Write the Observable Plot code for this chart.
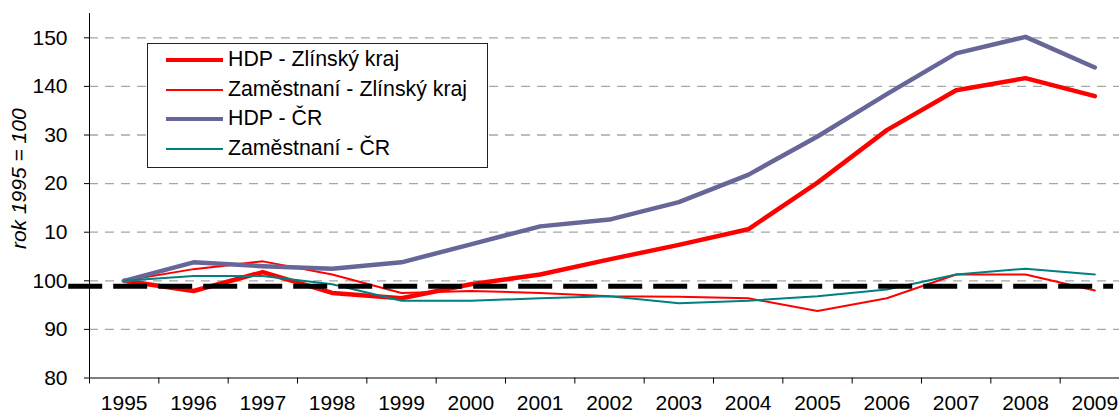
<!DOCTYPE html>
<html>
<head>
<meta charset="utf-8">
<script src="https://cdn.jsdelivr.net/npm/d3@7"></script>
<script src="https://cdn.jsdelivr.net/npm/@observablehq/plot@0.6"></script>
<style>
  html, body { margin: 0; padding: 0; background: white; }
  #wrap { position: relative; width: 1119px; height: 416px; overflow: hidden; font-family: "Liberation Sans", Arial, sans-serif; }
  #legend { position: absolute; left: 147px; top: 43px; width: 341px; height: 125px; border: 1px solid #222; background: white; box-sizing: border-box; }
  .row { position: absolute; left: 0; height: 30px; }
  .sw { position: absolute; left: 18px; width: 57px; }
  .lbl { position: absolute; left: 80px; white-space: nowrap; font-size: 21.3px; color: black; line-height: 1; }
</style>
</head>
<body>
<div id="wrap"></div>
<script>
const years = [1995, 1996, 1997, 1998, 1999, 2000, 2001, 2002, 2003, 2004, 2005, 2006, 2007, 2008, 2009];
const hdpZlin = [100, 97.9, 101.8, 97.5, 96.4, 99.3, 101.3, 104.4, 107.4, 110.6, 120.2, 131.0, 139.2, 141.7, 138.0];
const zamZlin = [100, 102.4, 104.0, 101.3, 97.5, 97.9, 97.5, 96.8, 96.7, 96.4, 93.8, 96.4, 101.3, 101.3, 98.0];
const hdpCR = [100, 103.8, 103.0, 102.5, 103.8, 107.5, 111.2, 112.6, 116.2, 121.8, 129.7, 138.4, 146.8, 150.2, 143.9];
const zamCR = [100, 101.0, 101.0, 99.3, 95.9, 95.9, 96.4, 96.8, 95.4, 95.9, 96.8, 98.2, 101.3, 102.5, 101.3];
const seriesNames = ["HDP - Zlínský kraj", "Zaměstnaní - Zlínský kraj", "HDP - ČR", "Zaměstnaní - ČR"];
const yTicks = [80, 90, 100, 110, 120, 130, 140, 150];
const yTickLabels = ["80", "90", "100", "10", "20", "30", "140", "150"];
const yTitle = "rok 1995 = 100";
const refValue = 98.9;

const styles = [
  {stroke: "#ff0000", strokeWidth: 4.5},
  {stroke: "#ff0000", strokeWidth: 2},
  {stroke: "#666699", strokeWidth: 4.5},
  {stroke: "#008080", strokeWidth: 2}
];
const seriesValues = [hdpZlin, zamZlin, hdpCR, zamCR];
const tables = seriesValues.map(vals => years.map((y, i) => ({year: y, value: vals[i]})));
const bounds = years.map(y => y - 0.5).concat([years[years.length - 1] + 0.5]);
const xMin = years[0] - 0.5, xMax = years[years.length - 1] + 0.5;

const chart = Plot.plot({
  width: 1119,
  height: 416,
  marginLeft: 89,
  marginTop: 13,
  marginBottom: 38.5,
  marginRight: 0,
  x: {type: "linear", domain: [xMin, xMax], range: [89, 1129]},
  y: {domain: [80, 155], range: [377.5, 13]},
  style: {fontFamily: "'Liberation Sans', Arial, sans-serif", fontSize: "21px", background: "white", color: "black"},
  marks: [
    Plot.ruleY(yTicks.filter(v => v > 80), {x1: xMin, x2: xMax, stroke: "#a6a6a6", strokeWidth: 1.3, strokeDasharray: "9,7"}),
    ...tables.map((t, i) => Plot.line(t, {x: "year", y: "value", stroke: styles[i].stroke, strokeWidth: styles[i].strokeWidth, strokeLinejoin: "round", strokeLinecap: "round"})),
    Plot.ruleX([xMin], {y1: 80, y2: 155, stroke: "black", strokeWidth: 1}),
    Plot.ruleY([80], {x1: xMin, x2: xMax, stroke: "black", strokeWidth: 1}),
    Plot.axisY({ticks: yTicks, tickFormat: d => yTickLabels[yTicks.indexOf(d)], tickSize: 5, tickPadding: 17, fontSize: 21, label: null, anchor: "left"}),
    Plot.axisX({ticks: bounds, tickFormat: () => "", tickSize: 6, label: null, anchor: "bottom"}),
    Plot.text(years, {x: d => d, frameAnchor: "bottom", dy: 32, text: d => String(d), fontSize: 21}),
    Plot.text([yTitle], {x: [xMin - 1.01], y: [121], text: d => d, rotate: -90, fontStyle: "italic", fontSize: 21}),
    Plot.ruleY([refValue], {x1: xMin - 0.3, x2: xMax - 0.23, stroke: "black", strokeWidth: 5, strokeDasharray: "34,11"})
  ]
});

const wrap = document.getElementById("wrap");
wrap.appendChild(chart);

const legend = document.createElement("div");
legend.id = "legend";
const rowTops = [1, 31, 60, 90];
seriesNames.forEach((name, i) => {
  const row = document.createElement("div");
  row.className = "row";
  row.style.top = rowTops[i] + "px";
  row.style.width = "100%";
  const sw = document.createElement("div");
  sw.className = "sw";
  sw.style.height = styles[i].strokeWidth + "px";
  sw.style.background = styles[i].stroke;
  sw.style.top = (15 - styles[i].strokeWidth / 2) + "px";
  const lbl = document.createElement("div");
  lbl.className = "lbl";
  lbl.textContent = name;
  lbl.style.top = "4px";
  row.appendChild(sw);
  row.appendChild(lbl);
  legend.appendChild(row);
});
wrap.appendChild(legend);
</script>
</body>
</html>
